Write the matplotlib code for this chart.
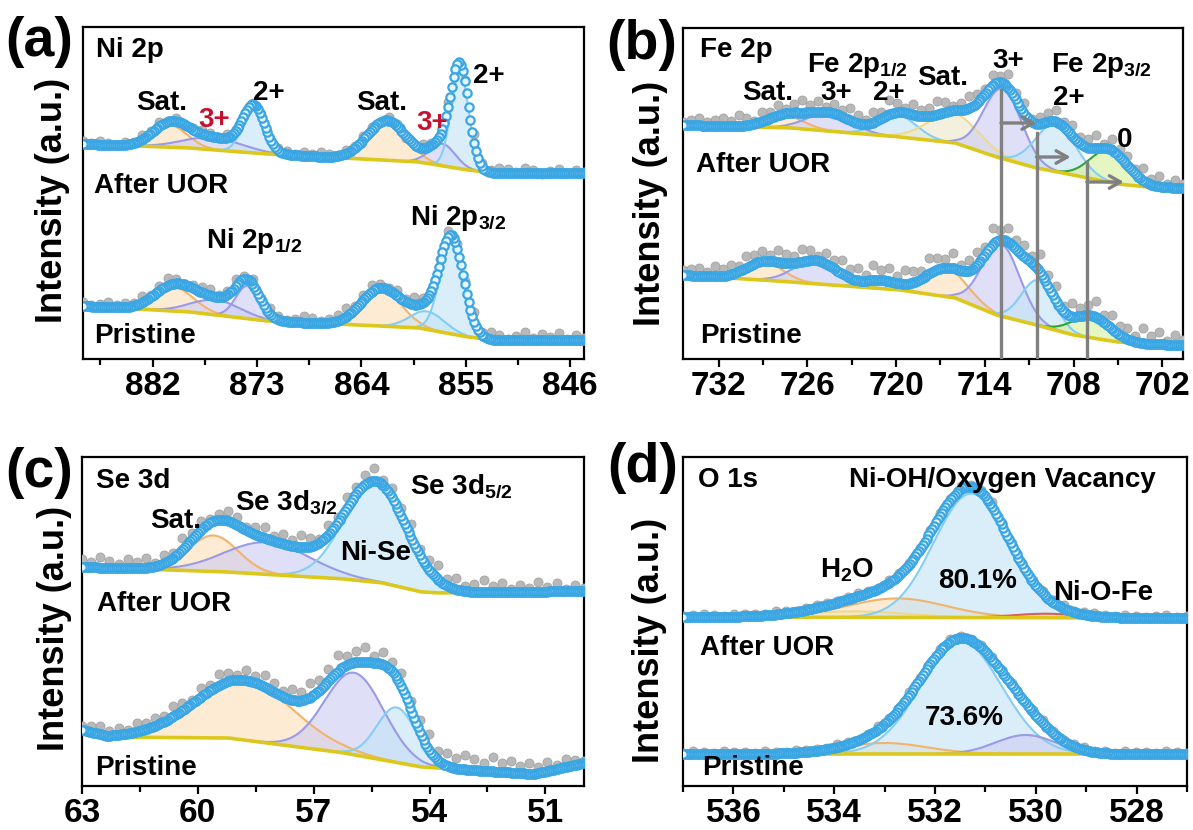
import numpy as np
import matplotlib
matplotlib.use('Agg')
import matplotlib.pyplot as plt
from matplotlib import font_manager
from matplotlib.ticker import MultipleLocator

W, H = 1193, 830
plt.rcParams['font.family'] = ['Liberation Sans', 'DejaVu Sans']
plt.rcParams['font.weight'] = 'bold'
plt.rcParams['mathtext.fontset'] = 'custom'
plt.rcParams['mathtext.rm'] = 'Liberation Sans:bold'
plt.rcParams['mathtext.bf'] = 'Liberation Sans:bold'
plt.rcParams['mathtext.it'] = 'Liberation Sans:bold'

# ---------------- data (binding energy in eV, intensity in a.u.) ----------------
# Panel (a) Ni 2p
a_ticks = [882, 873, 864, 855, 846]
a_up_base_E = [888, 878.7, 872.1, 862.3, 859, 854.8, 852.5, 844.8]
a_up_base_I = [215, 211, 205, 199, 197, 189, 186, 186]
a_up_centers = [880.5, 876.8, 873.3, 861.8, 857.0, 855.5]
a_up_heights = [22, 12, 44, 40, 22, 97]
a_up_fwhm = [3.5, 6.0, 2.2, 4.0, 2.6, 1.8]
a_up_kinds = ['orange', 'purple', 'blue', 'orange', 'purple', 'blue']
a_up_noise = [1, 3, 0, 4, 2, -1, 3, 5, 1, 4, 5, 2, 4, 6, 3, 1, 4, 0, 2, 4, 1, -2, 2, 4, 0, 3, 4, 2, 3, 1,
              3, 5, 2, 4, 1, 3, 2, 0, 3, 1, -1, 2, 4, 1, 3, 4, 2, 0, 3, 1, 4, 2, 4, 1, 3, 0, 2, 4, 1, 3]
a_pr_base_E = [888, 878.7, 872.1, 862.3, 859, 854.8, 852.5, 844.8]
a_pr_base_I = [53, 47, 38, 33, 31, 22, 19, 19]
a_pr_centers = [880.2, 876.5, 873.8, 862.3, 858.3, 856.2]
a_pr_heights = [24, 15, 33, 38, 18, 92]
a_pr_fwhm = [4.0, 5.0, 2.4, 4.0, 3.5, 2.4]
a_pr_kinds = ['orange', 'purple', 'purple', 'orange', 'blue', 'blue']
a_pr_noise = [2, 5, 1, 7, 3, 6, 2, 8, 4, 1, 5, 7, 3, 8, 5, 2, 6, 4, 1, 5, 8, 3, 6, 2, 4, 7, 5, 3, 8, 6,
              4, 2, 5, 7, 3, 1, 4, 6, 2, 5, 3, 7, 4, 2, 6, 5, 3, 1, 4, 7, 5, 2, 6, 3, 4, 2, 5, 3, 1, 4]

# Panel (b) Fe 2p
b_ticks = [732, 726, 720, 714, 708, 702]
b_up_base_E = [734.4, 727, 719.7, 716, 713.2, 710.5, 708, 705, 703, 700.6]
b_up_base_I = [234, 231, 222, 216, 202, 191, 184, 175, 172, 171]
b_up_centers = [727.5, 724.5, 719.9, 716.1, 712.8, 709.2, 705.6]
b_up_heights = [12, 18, 22, 30, 70, 48, 32]
b_up_fwhm = [3.0, 3.5, 3.0, 4.0, 3.0, 3.2, 3.0]
b_up_kinds = ['orange', 'purple', 'blue', 'yellow', 'purple', 'blue', 'green']
b_up_noise = [4, 8, 3, 10, 6, 12, 5, 9, 7, 11, 4, 13, 8, 6, 10, 5, 12, 9, 7, 3, 11, 8, 14, 6, 10, 5, 9, 12,
              7, 4, 10, 13, 8, 6, 11, 5, 9, 14, 7, 10, 4, 8, 12, 6, 9, 5, 11, 7, 13, 8, 4, 10, 6, 9, 3, 7,
              11, 5, 8, 6, 4, 7, 5, 3]
b_pr_base_E = [734.4, 727, 719.7, 716, 713.2, 710.5, 708, 705, 703, 700.6]
b_pr_base_I = [84, 77, 69, 61, 44, 34, 24, 17, 15, 14]
b_pr_centers = [728.9, 725.4, 721.0, 716.6, 712.9, 710.4, 706.8]
b_pr_heights = [18, 23, 8, 28, 72, 45, 22]
b_pr_fwhm = [3.0, 3.5, 2.5, 3.4, 3.0, 2.6, 3.0]
b_pr_kinds = ['orange', 'purple', 'blue', 'orange', 'purple', 'blue', 'green']
b_pr_noise = [5, 10, 4, 12, 8, 15, 6, 11, 9, 14, 7, 16, 10, 8, 13, 6, 15, 11, 18, 7, 12, 9, 14, 10, 17, 8,
              13, 11, 6, 15, 9, 12, 16, 8, 11, 14, 7, 13, 10, 15, 6, 12, 9, 14, 8, 11, 5, 10, 13, 7, 9, 12,
              6, 10, 8, 11, 5, 9, 7, 10, 4, 8, 6, 5]
b_shift_E = [712.9, 710.5, 707.1]
b_shift_top = [269, 226, 197]
b_arrow_I = [236, 202, 177]
b_arrow_end = [710.5, 708.2, 704.6]

# Panel (c) Se 3d
c_ticks = [63, 60, 57, 54, 51]
c_up_base_E = [63.0, 59.2, 56.2, 55.2, 54.2, 53.7, 50.0]
c_up_base_I = [219, 214, 207, 203, 194, 193, 195]
c_up_centers = [59.6, 58.2, 55.4]
c_up_heights = [36, 32, 100]
c_up_fwhm = [1.5, 2.6, 1.9]
c_up_kinds = ['orange', 'purple', 'blue']
c_up_noise = [3, 6, 2, 8, 5, 10, 4, 7, 3, 9, 6, 12, 8, 5, 11, 7, 14, 9, 6, 12, 8, 10, 5, 13, 9, 7, 11, 6,
              10, 4, 8, 12, 6, 9, 5, 11, 7, 3, 8, 10, 6, 4, 9, 7, 12, 5, 8, 3, 10, 6, 9, 4, 7, 11, 5, 8]
c_pr_base_E = [63.0, 62.35, 59.2, 56.2, 54.2, 51.3, 50.0]
c_pr_base_I = [56, 49, 48, 33, 19, 12, 23]
c_pr_centers = [58.8, 55.95, 54.85]
c_pr_heights = [60, 82, 55]
c_pr_fwhm = [3.0, 1.8, 1.2]
c_pr_kinds = ['orange', 'purple', 'blue']
c_pr_noise = [2, 5, 8, 4, 9, 6, 11, 7, 12, 9, 14, 8, 11, 15, 10, 13, 9, 16, 12, 8, 14, 10, 13, 7, 15, 11,
              9, 17, 12, 10, 14, 8, 11, 6, 9, 12, 7, 10, 5, 8, 11, 6, 9, 4, 7, 10, 5, 8, 6, 9, 4, 7, 5, 8, 6, 4]

# Panel (d) O 1s
d_ticks = [536, 534, 532, 530, 528]
d_up_base_E = [537.0, 527.0]
d_up_base_I = [169, 168]
d_up_centers = [533.6, 532.75, 531.28, 529.8]
d_up_heights = [6, 19, 124, 4]
d_up_fwhm = [2.4, 2.3, 1.75, 1.5]
d_up_kinds = ['yellow', 'orange', 'blue', 'red']
d_up_noise = [2, 1, 3, 2, 1, 2, 3, 1, 2, 3, 2, 1, 3, 2, 3, 1, 2, 3, 2, 4, 3, 2, 3, 1, 2, 3, 2, 1, 2, 3,
              1, 2, 3, 2, 1, 2, 3, 2, 1, 2, 3, 1, 2, 2, 3, 1, 2, 3, 2, 1]
d_pr_base_E = [537.0, 527.0]
d_pr_base_I = [32, 32]
d_pr_centers = [533.0, 531.48, 530.2]
d_pr_heights = [11, 112, 19]
d_pr_fwhm = [2.0, 1.9, 1.4]
d_pr_kinds = ['orange', 'blue', 'purple']
d_pr_noise = [1, 2, 3, 1, 2, 2, 3, 1, 2, 1, 3, 2, 1, 2, 3, 2, 1, 3, 2, 2, 3, 1, 2, 3, 2, 1, 2, 3, 1, 2,
              3, 2, 1, 2, 3, 1, 2, 2, 3, 1, 2, 3, 1, 2, 2, 3, 1, 2, 3, 1]

# ---------------- styles ----------------
LINE = {'orange': '#f2b36b', 'purple': '#9a9ae6', 'blue': '#86cdf2',
        'green': '#33a333', 'yellow': '#f0d98a', 'red': '#e05a5a'}
FILL = {'orange': '#fddfb8', 'purple': '#cbcbf3', 'blue': '#c2e4f8',
        'green': '#d4f09a', 'yellow': '#ece8c8', 'red': '#f6d0d0'}
BASE_C = '#dcc81c'
ENV_EC = '#3aa6e4'
ENV_FC = '#e6f6ff'
GREY = '#b8b8b8'

fig = plt.figure(figsize=(W / 100, H / 100), dpi=100)

names = {f.name for f in font_manager.fontManager.ttflist}
if 'Liberation Sans Narrow' in names:
    TICK_FAM, TICK_SIZE = 'Liberation Sans Narrow', 28
else:
    TICK_FAM, TICK_SIZE = 'Liberation Sans', 24


def px_axes(l, t, r, b):
    return fig.add_axes([l / W, 1 - b / H, (r - l) / W, (b - t) / H])


def gauss(E, c, h, w):
    return h * np.exp(-4 * np.log(2) * ((E - c) / w) ** 2)


def spectrum(ax, xlim, bE, bI, cen, hei, fw, kinds, noise, n_env=270):
    lo, hi = min(xlim), max(xlim)
    E = np.linspace(lo, hi, 800)
    bE_ = np.asarray(bE)[::-1]
    bI_ = np.asarray(bI)[::-1]
    base = np.interp(E, bE_, bI_)
    for c, h, w, k in zip(cen, hei, fw, kinds):
        comp = gauss(E, c, h, w)
        ax.fill_between(E, base, base + comp, color=FILL[k], alpha=0.6, lw=0, zorder=1)
        ax.plot(E, np.where(comp > 0.15, base + comp, np.nan), color=LINE[k], lw=1.5, zorder=2)
    ax.plot(E, base, color=BASE_C, lw=2.6, zorder=3)

    def env(x):
        y = np.interp(x, bE_, bI_)
        for c, h, w in zip(cen, hei, fw):
            y = y + gauss(x, c, h, w)
        return y

    Eg = np.linspace(lo, hi, len(noise))
    ax.plot(Eg, env(Eg) + np.asarray(noise), 'o', ms=6.5, mfc=GREY, mec='#a2a2a2', mew=0.6, zorder=4)
    Em = np.linspace(lo, hi, n_env)
    ax.plot(Em, env(Em), 'o', ms=6.0, mfc=ENV_FC, mec=ENV_EC, mew=1.6, zorder=5)


def style(ax, xlim, ylim, ticks, minor):
    ax.set_xlim(*xlim)
    ax.set_ylim(*ylim)
    ax.set_xticks(ticks)
    ax.xaxis.set_minor_locator(MultipleLocator(minor))
    ax.tick_params(axis='y', left=False, labelleft=False)
    ax.tick_params(axis='x', which='major', direction='out', length=6, width=1.6, pad=2.5)
    ax.tick_params(axis='x', which='minor', direction='out', length=4, width=1.6)
    for lab in ax.get_xticklabels():
        lab.set_fontfamily(TICK_FAM)
        lab.set_fontsize(TICK_SIZE)
        lab.set_fontweight('bold')
    for s in ax.spines.values():
        s.set_linewidth(1.6)


def ftext(x, y, s, size=20, ha='left', color='black', va='baseline', **kw):
    fig.text(x / W, 1 - y / H, s, fontsize=size, ha=ha, va=va, color=color,
             fontweight='bold', **kw)


RED = '#c8102e'

# ---- (a) ----
axa = px_axes(83, 27, 584, 359)
a_xlim = (888.0, 844.8)
spectrum(axa, a_xlim, a_up_base_E, a_up_base_I, a_up_centers, a_up_heights, a_up_fwhm, a_up_kinds, a_up_noise)
spectrum(axa, a_xlim, a_pr_base_E, a_pr_base_I, a_pr_centers, a_pr_heights, a_pr_fwhm, a_pr_kinds, a_pr_noise)
style(axa, a_xlim, (0, 332), a_ticks, 4.5)

# ---- (b) ----
axb = px_axes(683, 28, 1183, 359)
b_xlim = (734.4, 700.6)
spectrum(axb, b_xlim, b_up_base_E, b_up_base_I, b_up_centers, b_up_heights, b_up_fwhm, b_up_kinds, b_up_noise)
spectrum(axb, b_xlim, b_pr_base_E, b_pr_base_I, b_pr_centers, b_pr_heights, b_pr_fwhm, b_pr_kinds, b_pr_noise)
for e, top, yi, e2 in zip(b_shift_E, b_shift_top, b_arrow_I, b_arrow_end):
    axb.plot([e, e], [0, top], color='#808080', lw=2.4, zorder=6)
    axb.annotate('', xy=(e2, yi), xytext=(e, yi),
                 arrowprops=dict(arrowstyle='->,head_width=0.45,head_length=0.8', color='#808080',
                                 lw=2.4, shrinkA=0, shrinkB=0), zorder=6)
style(axb, b_xlim, (0, 331), b_ticks, 3)

# ---- (c) ----
axc = px_axes(82, 457, 584, 786)
c_xlim = (63.0, 50.0)
spectrum(axc, c_xlim, c_up_base_E, c_up_base_I, c_up_centers, c_up_heights, c_up_fwhm, c_up_kinds, c_up_noise)
spectrum(axc, c_xlim, c_pr_base_E, c_pr_base_I, c_pr_centers, c_pr_heights, c_pr_fwhm, c_pr_kinds, c_pr_noise)
style(axc, c_xlim, (0, 329), c_ticks, 1.5)

# ---- (d) ----
axd = px_axes(683, 457, 1187, 786)
d_xlim = (537.0, 527.0)
spectrum(axd, d_xlim, d_up_base_E, d_up_base_I, d_up_centers, d_up_heights, d_up_fwhm, d_up_kinds, d_up_noise)
spectrum(axd, d_xlim, d_pr_base_E, d_pr_base_I, d_pr_centers, d_pr_heights, d_pr_fwhm, d_pr_kinds, d_pr_noise)
style(axd, d_xlim, (0, 329), d_ticks, 1)

# ---- panel letters & y labels ----
for (x, y, s) in [(39, 42, '(a)'), (642, 45, '(b)'), (39, 473, '(c)'), (643, 468, '(d)')]:
    ftext(x, y, s, size=40, ha='center', va='center')
for (x, y) in [(53, 200), (651, 203), (54, 628), (650, 640)]:
    ftext(x, y, 'Intensity (a.u.)', size=26, ha='center', va='center', rotation=90)

# ---- annotations (a) ----
ftext(96, 57, 'Ni 2p')
ftext(162, 110, 'Sat.', ha='center')
ftext(214, 127, '3+', ha='center', color=RED)
ftext(269, 100, '2+', ha='center')
ftext(382, 110, 'Sat.', ha='center')
ftext(432, 130, '3+', ha='center', color=RED)
ftext(489, 83, '2+', ha='center')
ftext(94, 193, 'After UOR')
ftext(206, 248, r'Ni 2p$_{1/2}$')
ftext(410, 225, r'Ni 2p$_{3/2}$')
ftext(94, 343, 'Pristine')

# ---- annotations (b) ----
ftext(700, 57, 'Fe 2p')
ftext(807, 72, r'Fe 2p$_{1/2}$')
ftext(768, 100, 'Sat.', ha='center')
ftext(836, 100, '3+', ha='center')
ftext(889, 100, '2+', ha='center')
ftext(943, 85, 'Sat.', ha='center')
ftext(1008, 68, '3+', ha='center')
ftext(1051, 72, r'Fe 2p$_{3/2}$')
ftext(1069, 105, '2+', ha='center')
ftext(1125, 147, '0', ha='center')
ftext(696, 172, 'After UOR')
ftext(700, 343, 'Pristine')

# ---- annotations (c) ----
ftext(96, 488, 'Se 3d')
ftext(176, 528, 'Sat.', ha='center')
ftext(235, 510, r'Se 3d$_{3/2}$')
ftext(410, 493, r'Se 3d$_{5/2}$')
ftext(340, 560, 'Ni-Se')
ftext(97, 611, 'After UOR')
ftext(95, 775, 'Pristine')

# ---- annotations (d) ----
ftext(698, 487, 'O 1s')
ftext(849, 487, 'Ni-OH/Oxygen Vacancy')
ftext(820, 578, r'H$_2$O')
ftext(938, 588, '80.1%')
ftext(1053, 600, 'Ni-O-Fe')
ftext(700, 655, 'After UOR')
ftext(925, 725, '73.6%')
ftext(702, 775, 'Pristine')

fig.savefig('out.png', dpi=100)
